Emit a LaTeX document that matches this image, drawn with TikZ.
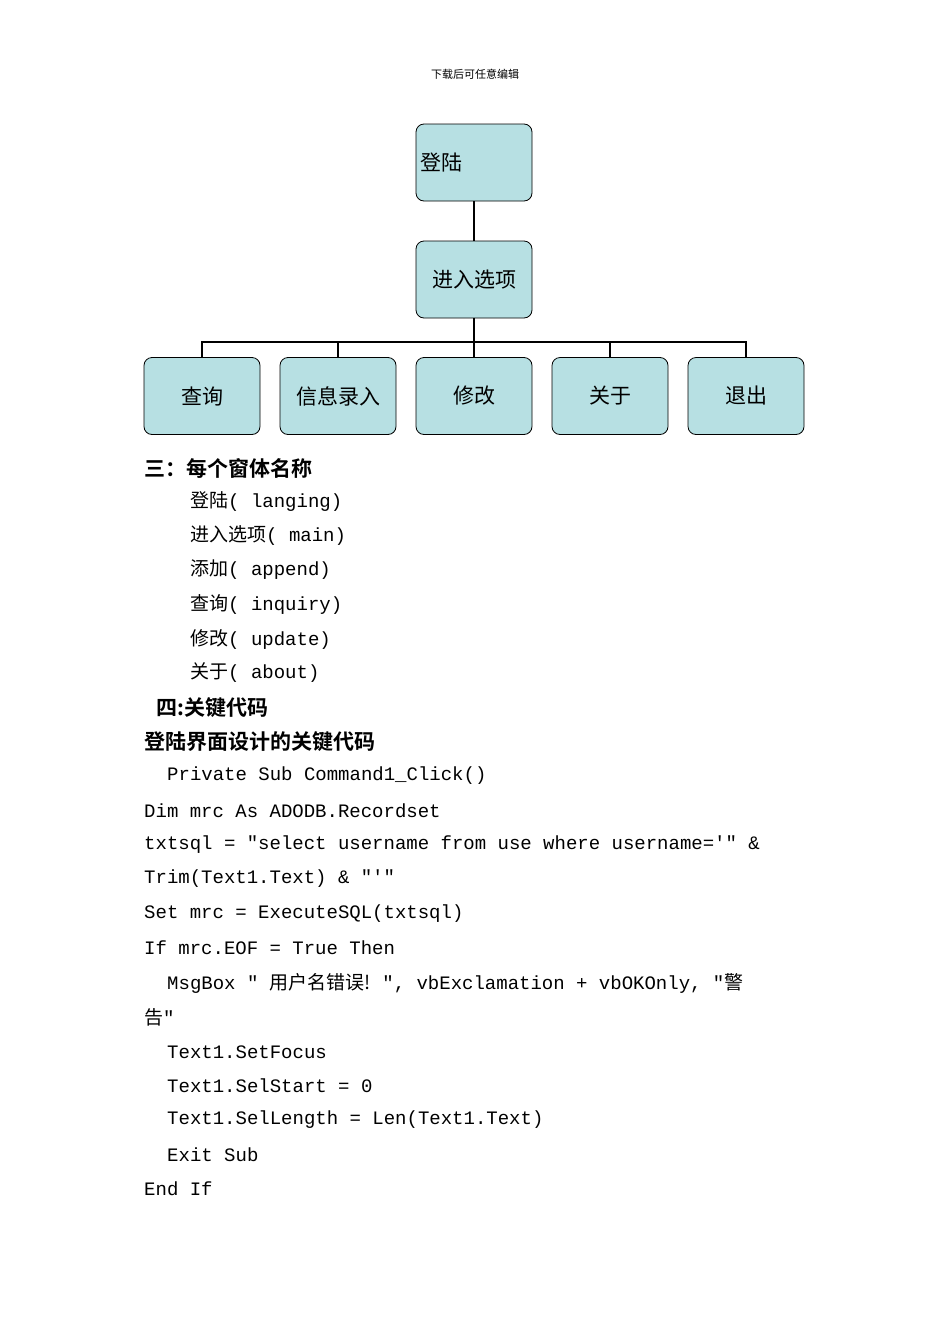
\documentclass[tikz,border=0pt]{standalone}
\usepackage{fontspec}
\setmainfont{Liberation Serif}
\setmonofont{Liberation Mono}
\newfontfamily\cjk{Noto Sans CJK SC}
\newfontfamily\cjkb{Noto Sans CJK SC Bold}
\begin{document}
\begin{tikzpicture}[x=1pt,y=-1pt,
  box/.style={draw=black,fill=boxc,rounded corners=8pt,minimum width=116pt,minimum height=77pt,line width=0.8pt,font=\cjk\fontsize{21}{24}\selectfont},
  ln/.style={anchor=west,inner sep=0pt,font=\ttfamily\fontsize{19}{22}\selectfont},
  hd/.style={anchor=west,inner sep=0pt,font=\cjkb\fontsize{21}{24}\selectfont},
  conn/.style={line width=2.2pt}]
\definecolor{boxc}{RGB}{183,224,227}
\useasboundingbox (0,0) rectangle (950,1344);
\node[font=\cjk\fontsize{11}{13}\selectfont] (hdr) at (475,74) {下载后可任意编辑};
\node[box,text width=108pt,align=left,inner sep=2pt] (login) at (474,162.5) {登陆};
\node[box] (main) at (474,279.5) {进入选项};
\node[box] (q) at (202,396) {查询};
\node[box] (x) at (338,396) {信息录入};
\node[box] (m) at (474,396) {修改};
\node[box] (g) at (610,396) {关于};
\node[box] (e) at (746,396) {退出};
\coordinate (bus) at (474,342);
\draw[conn] (login) -- (main);
\draw[conn] (main) -- (bus);
\draw[conn] (q.north) |- (bus) -| (e.north);
\draw[conn] (x.north) -- (x.north|-bus);
\draw[conn] (m.north) -- (m.north|-bus);
\draw[conn] (g.north) -- (g.north|-bus);
\node[hd] (l1) at (144,468) {三：每个窗体名称};
\node[ln] (l2) at (190,502) {{\cjk 登陆}( langing)};
\node[ln] (l3) at (190,536) {{\cjk 进入选项}( main)};
\node[ln] (l4) at (190,570) {{\cjk 添加}( append)};
\node[ln] (l5) at (190,604) {{\cjk 查询}( inquiry)};
\node[ln] (l6) at (190,639) {{\cjk 修改}( update)};
\node[ln] (l7) at (190,673) {{\cjk 关于}( about)};
\node[hd] (l8) at (156,708) {四:关键代码};
\node[hd] (l9) at (144,742) {登陆界面设计的关键代码};
\node[ln] (c1) at (167,776) {Private Sub Command1\_Click()};
\node[ln] (c2) at (144,811) {Dim mrc As ADODB.Recordset};
\node[ln] (c3) at (144,845) {\makebox[661pt][s]{txtsql = "select username from use where username='" \&}};
\node[ln] (c4) at (144,879) {Trim(Text1.Text) \& "'"};
\node[ln] (c5) at (144,914) {Set mrc = ExecuteSQL(txtsql)};
\node[ln] (c6) at (144,948) {If mrc.EOF = True Then};
\node[ln] (c7) at (167,983) {\makebox[640pt][s]{MsgBox " {\cjk 用户名错误!} ", vbExclamation + vbOKOnly, "{\cjk 警}}};
\node[ln] (c8) at (144,1017) {{\cjk 告}"};
\node[ln] (c9) at (167,1052) {Text1.SetFocus};
\node[ln] (c10) at (167,1086) {Text1.SelStart = 0};
\node[ln] (c11) at (167,1120) {Text1.SelLength = Len(Text1.Text)};
\node[ln] (c12) at (167,1155) {Exit Sub};
\node[ln] (c13) at (144,1189) {End If};
\end{tikzpicture}
\end{document}
